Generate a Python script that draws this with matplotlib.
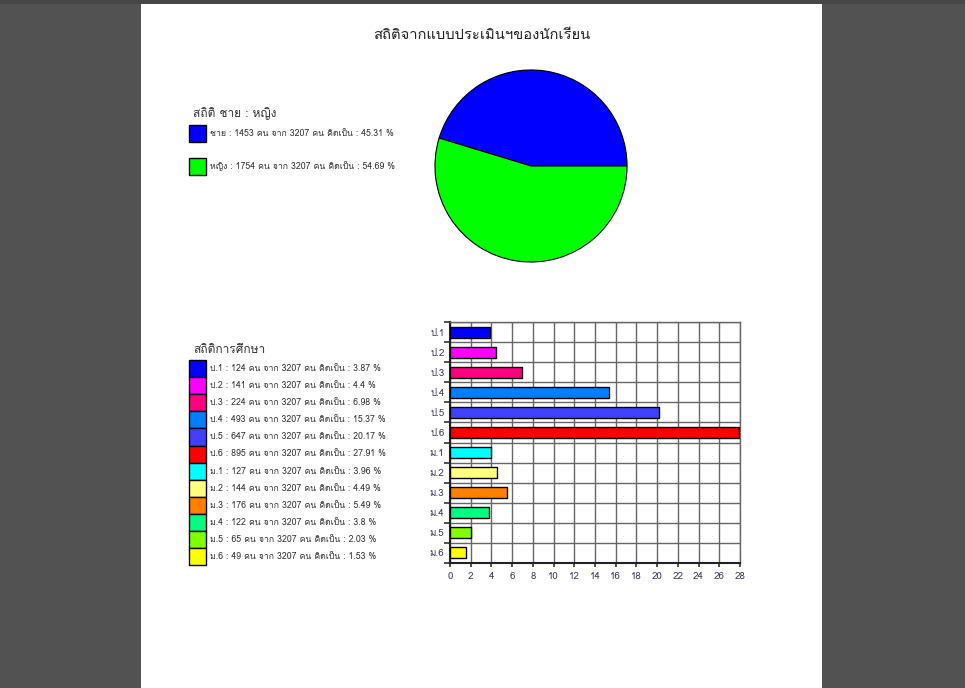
import numpy as np
import matplotlib
matplotlib.use("Agg")
import matplotlib.pyplot as plt
from matplotlib import font_manager
from matplotlib.ft2font import FT2Font
from matplotlib.patches import Rectangle

# data
sex_labels = ["ชาย", "หญิง"]
sex_counts = [1453, 1754]
sex_percents = [45.31, 54.69]
sex_colors = ["#0000ff", "#00ff00"]

levels = ["ป.1", "ป.2", "ป.3", "ป.4", "ป.5", "ป.6",
          "ม.1", "ม.2", "ม.3", "ม.4", "ม.5", "ม.6"]
level_counts = [124, 141, 224, 493, 647, 895, 127, 144, 176, 122, 65, 49]
level_percents = [3.87, 4.4, 6.98, 15.37, 20.17, 27.91,
                  3.96, 4.49, 5.49, 3.8, 2.03, 1.53]
level_colors = ["#0000ff", "#ff00ff", "#ff0080", "#0080ff", "#4040ff", "#ff0000",
                "#00ffff", "#ffff80", "#ff8000", "#00ff80", "#80ff00", "#ffff00"]
total = 3207
x_ticks = list(range(0, 29, 2))


def find_thai_font():
    for f in font_manager.fontManager.ttflist:
        try:
            if 0x0E2A in FT2Font(f.fname).get_charmap():
                return f.name
        except Exception:
            pass
    return "DejaVu Sans"


thai = find_thai_font()
plt.rcParams["font.family"] = [thai, "DejaVu Sans"]

W, H = 965, 688
fig = plt.figure(figsize=(W / 100, H / 100), dpi=100)
fig.patch.set_facecolor("#525252")

# background axes in pixel coords (page, title, legends)
bg = fig.add_axes([0, 0, 1, 1])
bg.set_xlim(0, W)
bg.set_ylim(H, 0)
bg.axis("off")
bg.add_patch(Rectangle((0, 0), W, 4, facecolor="#474747", edgecolor="none"))
bg.add_patch(Rectangle((141, 4), 681, 684, facecolor="white", edgecolor="none"))
bg.text(482, 35, "สถิติจากแบบประเมินฯของนักเรียน", ha="center", va="center",
        fontsize=10.6, color="#222222")

txt_col = "#333333"

# sex legend
bg.text(193, 114, "สถิติ ชาย : หญิง", ha="left", va="center", fontsize=8.6, color=txt_col)
for i, (lab, c, p, col) in enumerate(zip(sex_labels, sex_counts, sex_percents, sex_colors)):
    y = 125 + i * 33
    bg.add_patch(Rectangle((189, y), 17, 17, facecolor=col, edgecolor="black", lw=1))
    bg.text(210, y + 8.5, f"{lab} : {c} คน จาก {total} คน คิดเป็น : {p:g} %",
            ha="left", va="center", fontsize=6.3, color=txt_col)

# education legend
bg.text(193, 350, "สถิติการศึกษา", ha="left", va="center", fontsize=8.6, color=txt_col)
for i, (lab, c, p, col) in enumerate(zip(levels, level_counts, level_percents, level_colors)):
    y = 360 + i * 17.1
    bg.add_patch(Rectangle((189, y), 17, 17.1, facecolor=col, edgecolor="black", lw=1))
    bg.text(210, y + 8.5, f"{lab} : {c} คน จาก {total} คน คิดเป็น : {p:g} %",
            ha="left", va="center", fontsize=6.3, color=txt_col)

# pie
cx, cy, r = 531, 166, 97
pax = fig.add_axes([(cx - r) / W, (H - cy - r) / H, 2 * r / W, 2 * r / H])
pax.pie(sex_counts, colors=sex_colors, startangle=0, counterclock=True,
        wedgeprops=dict(edgecolor="black", linewidth=0.8))
pax.set_xlim(-1.01, 1.01)
pax.set_ylim(-1.01, 1.01)

# bar chart
bx0, bx1, by0, by1 = 450, 740, 322, 563
bax = fig.add_axes([bx0 / W, (H - by1) / H, (bx1 - bx0) / W, (by1 - by0) / H])
ypos = np.arange(len(levels))
bax.barh(ypos, level_percents, height=0.55, color=level_colors,
         edgecolor="black", linewidth=1, zorder=3)
bax.set_yticks(ypos)
bax.set_yticks(np.arange(-0.5, len(levels), 1), minor=True)
bax.set_yticklabels(levels)
bax.set_xticks(x_ticks)
bax.set_ylim(len(levels) - 0.5, -0.5)
bax.set_xlim(0, 28)
bax.tick_params(axis="y", which="major", length=0, labelsize=7, labelcolor="#3a3a6a", pad=4)
bax.tick_params(axis="y", which="minor", length=4, width=1.2, color="#333333")
bax.tick_params(axis="x", length=3, width=1.2, labelsize=7, labelcolor="#3a3a6a", color="#333333")
bax.grid(True, axis="x", color="#666666", linewidth=1, zorder=0)
bax.grid(True, axis="y", which="minor", color="#666666", linewidth=1, zorder=0)
bax.set_axisbelow(True)
for s in ["top", "right"]:
    bax.spines[s].set_color("#666666")
    bax.spines[s].set_linewidth(1)
for s in ["left", "bottom"]:
    bax.spines[s].set_color("#222222")
    bax.spines[s].set_linewidth(1.5)

fig.savefig("out.png", dpi=100, facecolor=fig.get_facecolor())
